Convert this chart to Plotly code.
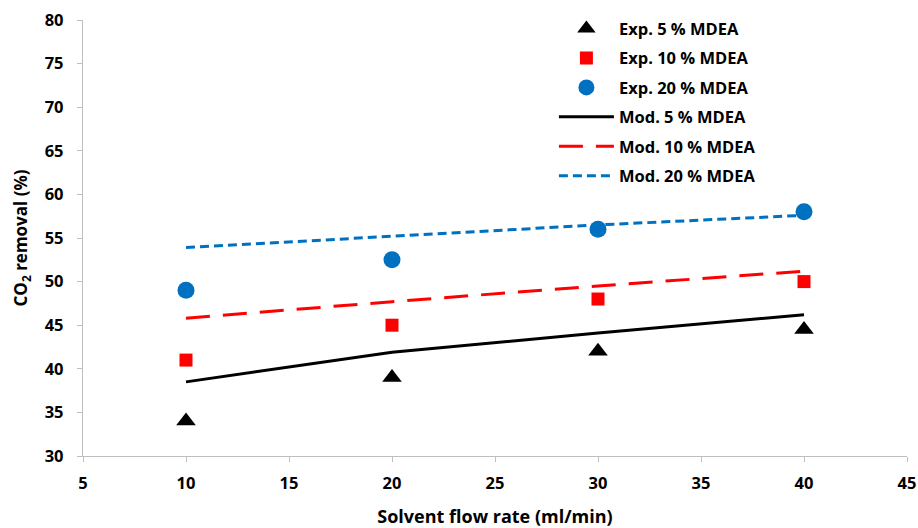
import plotly.graph_objects as go

# Solvent flow rate (ml/min)
flow = [10, 20, 30, 40]

# Experimental CO2 removal (%)
exp_5 = [34.0, 39.0, 42.0, 44.5]
exp_10 = [41.0, 45.0, 48.0, 50.0]
exp_20 = [49.0, 52.5, 56.0, 58.0]

# Model predictions (%)
mod_5 = [38.5, 41.9, 44.1, 46.2]
mod_10 = [45.8, 47.7, 49.5, 51.2]
mod_20 = [53.9, 55.2, 56.5, 57.6]

x_ticks = [5, 10, 15, 20, 25, 30, 35, 40, 45]
y_ticks = [30, 35, 40, 45, 50, 55, 60, 65, 70, 75, 80]

FONT = "Open Sans"
BLUE = "#0070c0"
RED = "#ff0000"

fig = go.Figure()

fig.add_trace(go.Scatter(x=flow, y=exp_5, mode="markers", name="Exp. 5 % MDEA",
                         legendgroup="a",
                         marker=dict(symbol="triangle-up", size=17, color="black")))
fig.add_trace(go.Scatter(x=flow, y=exp_10, mode="markers", name="Exp. 10 % MDEA",
                         legendgroup="b",
                         marker=dict(symbol="square", size=13, color=RED)))
fig.add_trace(go.Scatter(x=flow, y=exp_20, mode="markers", name="Exp. 20 % MDEA",
                         legendgroup="c",
                         marker=dict(symbol="circle", size=17, color=BLUE)))
fig.add_trace(go.Scatter(x=flow, y=mod_5, mode="lines", name="Mod. 5 % MDEA",
                         legendgroup="d",
                         line=dict(color="black", width=3)))
fig.add_trace(go.Scatter(x=flow, y=mod_10, mode="lines", name="Mod. 10 % MDEA",
                         legendgroup="e",
                         line=dict(color=RED, width=3, dash="24px,13px")))
fig.add_trace(go.Scatter(x=flow, y=mod_20, mode="lines", name="Mod. 20 % MDEA",
                         legendgroup="f",
                         line=dict(color=BLUE, width=3, dash="9px,5px")))

axis_common = dict(
    showgrid=False, zeroline=False, showline=True, automargin=False,
    linecolor="#bfbfbf", linewidth=1.3,
    ticks="outside", tickcolor="#bfbfbf", ticklen=5,
    tickfont=dict(family=FONT, size=16.5, color="black", weight=700),
)

fig.update_layout(
    width=918, height=528,
    margin=dict(l=83, r=11, t=17, b=72),
    paper_bgcolor="white", plot_bgcolor="white",
    font=dict(family=FONT, color="black"),
    xaxis=dict(range=[5, 45], tickvals=x_ticks, ticklabelstandoff=7, **axis_common,
               title=dict(text="Solvent flow rate (ml/min)", standoff=17,
                          font=dict(family=FONT, size=18, color="black", weight=700))),
    yaxis=dict(range=[30, 80], tickvals=y_ticks, ticklabelstandoff=10, **axis_common,
               title=dict(text="CO<sub>2</sub> removal (%)", standoff=12,
                          font=dict(family=FONT, size=17, color="black", weight=700))),
    legend=dict(
        x=0.5715, y=1.02, xanchor="left", yanchor="top",
        bgcolor="rgba(0,0,0,0)",
        font=dict(family=FONT, size=16.5, color="black", weight=700),
        itemwidth=55, traceorder="grouped", tracegroupgap=5,
    ),
    showlegend=True,
)

fig.write_html("out.html")
